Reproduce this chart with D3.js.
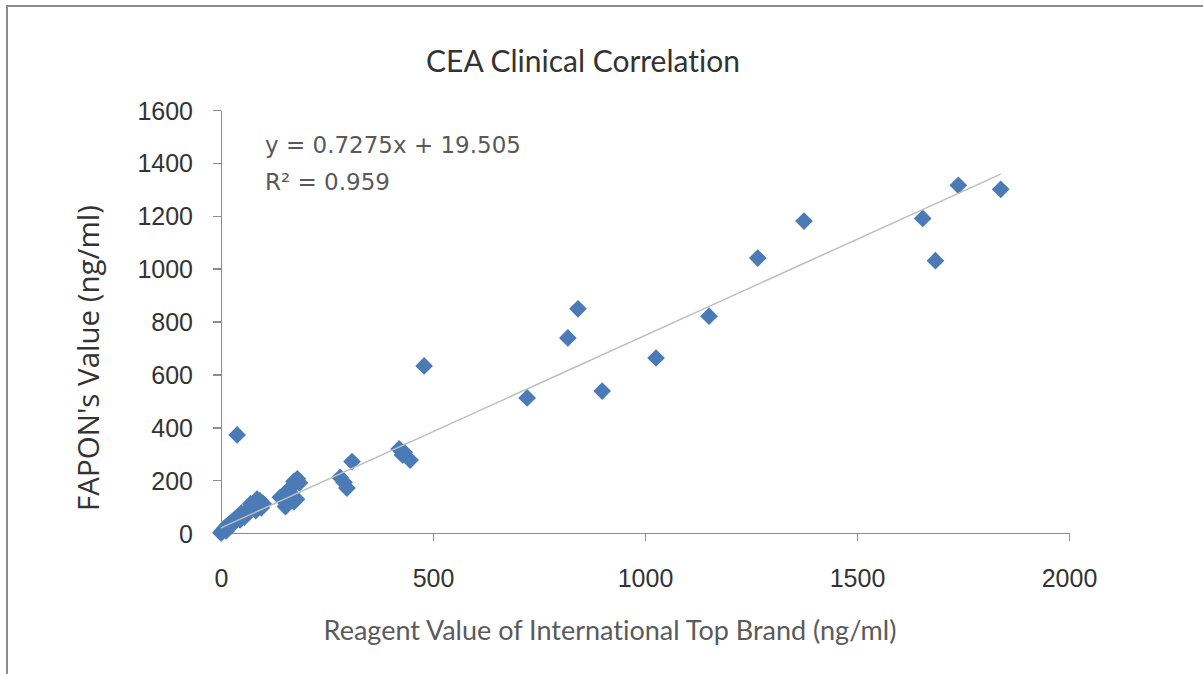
<!DOCTYPE html>
<html lang="en">
<head>
<meta charset="utf-8">
<title>CEA Clinical Correlation</title>
<script src="https://cdnjs.cloudflare.com/ajax/libs/d3/7.8.5/d3.min.js"></script>
<style>
  body { margin: 0; background: #fff; }
  .axis path, .axis line { stroke: #8c8c8c; stroke-width: 1.5; shape-rendering: crispEdges; }
  .axis text { font: 25px "Liberation Sans", Arial, sans-serif; fill: #333; }
</style>
</head>
<body>
<script>
// reference (international brand) vs FAPON values, ng/ml
var refValues = [1839, 1739, 1655, 1685, 1375, 1266, 1151, 1026, 899, 842, 818, 722, 479, 38,
  309, 281, 297, 290, 420, 428, 446, 432,
  180, 172, 185, 165, 158, 148, 140, 152, 172, 178, 160,
  92, 85, 78, 70, 95, 82, 65, 58, 48, 40, 35, 30, 25, 20, 15, 10, 8, 5, 3, 1, 0, 12, 22, 45, 55, 100, 88];
var faponValues = [1300, 1315, 1190, 1030, 1180, 1040, 820, 662, 537, 848, 738, 511, 632, 371,
  270, 210, 170, 192, 318, 295, 276, 305,
  205, 195, 190, 172, 160, 145, 135, 100, 118, 128, 150,
  122, 128, 115, 110, 95, 85, 90, 70, 75, 62, 55, 48, 40, 35, 28, 20, 15, 10, 5, 2, 0, 8, 25, 50, 60, 110, 100];
var xTicks = [0, 500, 1000, 1500, 2000];
var yTicks = [0, 200, 400, 600, 800, 1000, 1200, 1400, 1600];
var slope = 0.7275, intercept = 19.505;
var eqLabel = "y = 0.7275x + 19.505";
var r2Label = "R\u00b2 = 0.959";

var W = 1203, H = 674;
var svg = d3.select("body").append("svg").attr("width", W).attr("height", H);

// outer chart frame
svg.append("rect")
  .attr("x", 7).attr("y", 6).attr("width", 1300).attr("height", 800)
  .attr("fill", "none").attr("stroke", "#8c8c8c").attr("stroke-width", 2);

var x = d3.scaleLinear().domain([0, 2000]).range([221, 1069]);
var y = d3.scaleLinear().domain([0, 1600]).range([533, 110]);

svg.append("g")
  .attr("class", "axis")
  .attr("transform", "translate(0," + y(0) + ")")
  .call(d3.axisBottom(x).tickValues(xTicks).tickFormat(d3.format("d"))
    .tickSize(8).tickSizeOuter(0).tickPadding(37));

svg.append("g")
  .attr("class", "axis")
  .attr("transform", "translate(" + x(0) + ",0)")
  .call(d3.axisLeft(y).tickValues(yTicks).tickFormat(d3.format("d"))
    .tickSize(8).tickSizeOuter(0).tickPadding(20));

svg.selectAll(".axis text").attr("dy", "0.36em");

var xMax = d3.max(refValues), xMin = d3.min(refValues);
var pts = refValues.map(function(d, i) { return [d, faponValues[i]]; });

svg.selectAll("path.pt")
  .data(pts).enter()
  .append("path")
  .attr("class", "pt")
  .attr("d", d3.symbol().type(d3.symbolDiamond2).size(200))
  .attr("transform", function(d) { return "translate(" + x(d[0]) + "," + y(d[1]) + ")"; })
  .attr("fill", "#4a7bb6");

// trendline (drawn over the markers)
svg.append("line")
  .attr("x1", x(xMin)).attr("y1", y(slope * xMin + intercept))
  .attr("x2", x(xMax)).attr("y2", y(slope * xMax + intercept))
  .attr("stroke", "#bdbdbd").attr("stroke-width", 1.5);

svg.append("text")
  .attr("x", 583).attr("y", 72)
  .attr("text-anchor", "middle")
  .style("font", "30px Lato, 'Noto Sans', sans-serif")
  .style("font-variant-ligatures", "none")
  .style("fill", "#333")
  .text("CEA Clinical Correlation");

svg.append("text")
  .attr("transform", "translate(99,358) rotate(-90)")
  .attr("text-anchor", "middle")
  .style("font", "29.5px 'Open Sans', sans-serif")
  .style("fill", "#333")
  .text("FAPON's Value (ng/ml)");

svg.append("text")
  .attr("x", 610).attr("y", 640)
  .attr("text-anchor", "middle")
  .style("font", "27px Lato, 'Noto Sans', sans-serif")
  .style("font-variant-ligatures", "none")
  .style("fill", "#5a5a5a")
  .text("Reagent Value of International Top Brand (ng/ml)");

svg.append("text")
  .attr("x", 265).attr("y", 153)
  .style("font", "23px 'DejaVu Sans', sans-serif")
  .style("fill", "#595959")
  .text(eqLabel);
svg.append("text")
  .attr("x", 265).attr("y", 190)
  .style("font", "23px 'DejaVu Sans', sans-serif")
  .style("fill", "#595959")
  .text(r2Label);
</script>
</body>
</html>
